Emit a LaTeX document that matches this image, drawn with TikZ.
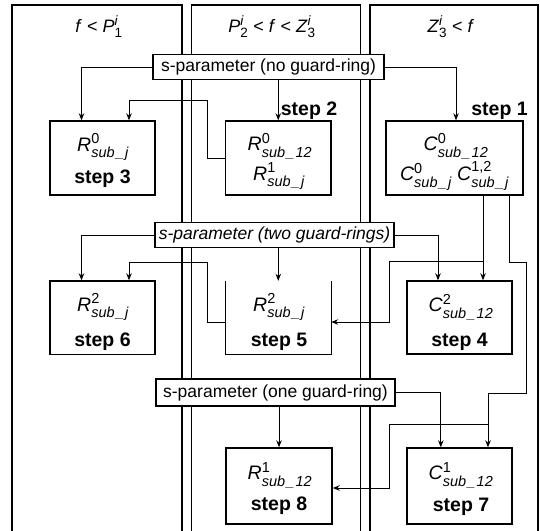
\documentclass[tikz,border=0pt]{standalone}
\usepackage{amsmath}
\usepackage{fontspec}
\setmainfont{Liberation Sans}
\usetikzlibrary{arrows.meta}
\DeclareMathSizes{19.5}{19.5}{14.5}{11}
\DeclareMathSizes{18}{18}{13.5}{10}
\newcommand{\vv}[3]{\textit{#1}\ensuremath{^{\textup{#2}}_{\textit{#3}}}}
\newcommand{\vt}[3]{\textit{#1}\ensuremath{^{\textit{#2}}_{\textup{#3}}}}
\newcommand{\us}{\kern1.2pt\_\kern1.2pt}
\begin{document}
\begin{tikzpicture}[x=1pt,y=-1pt,
  panel/.style={line width=1.3pt},
  box/.style={draw, line width=1.4pt, inner sep=0pt},
  sbox/.style={draw, fill=white, line width=1.1pt, inner sep=0pt, minimum height=25pt, font=\fontsize{17.5}{20}\selectfont},
  conn/.style={line width=1pt},
  arr/.style={conn, -{Stealth[length=7pt,width=5.5pt]}},
  steplbl/.style={font=\bfseries\fontsize{19.5}{22}\selectfont},
  big/.style={font=\fontsize{19.5}{22}\selectfont},
  ttl/.style={font=\fontsize{18}{20}\selectfont},
]
\useasboundingbox (0,0) rectangle (540,530);
% panels
\draw[panel] (12,531) -- (12,5) -- (182,5) -- (182,531);
\draw[panel] (191.5,531) -- (191.5,5) -- (360.5,5) -- (360.5,531);
\draw[panel] (370,531) -- (370,5) -- (538,5) -- (538,531);
% titles
\node[ttl] (t1) at (99,27) {\textit{f} < \vt{P}{i}{1}};
\node[ttl] (t2) at (272,27) {\vt{P}{i}{2} < \textit{f} < \vt{Z}{i}{3}};
\node[ttl] (t3) at (451,27) {\vt{Z}{i}{3} < \textit{f}};
% s-parameter boxes
\node[sbox, minimum width=231pt] (p1) at (268.5,67) {s-parameter (no guard-ring)};
\node[sbox, minimum width=239pt] (p2) at (274.5,235) {\itshape s-parameter (two guard-rings)};
\node[sbox, minimum width=239pt, minimum height=27pt] (p3) at (275.5,392.5) {s-parameter (one guard-ring)};
% row 1
\node[box, minimum width=105pt, minimum height=74pt] (s3) at (102.5,158) {};
\node[big] (s3r) at (103,147) {\vv{R}{0}{sub\us j}};
\node[steplbl] (s3s) at (102.5,179) {step 3};
\node[box, minimum width=105.5pt, minimum height=74pt] (s2) at (278.25,158) {};
\node[big] (s2r) at (280,146) {\vv{R}{0}{sub\us 12}};
\node[big] (s2q) at (279,176) {\vv{R}{1}{sub\us j}};
\node[steplbl] (s2s) at (309,111) {step 2};
\node[box, minimum width=137pt, minimum height=74pt] (s1) at (454.5,158) {};
\node[big] (s1r) at (456,146) {\vv{C}{0}{sub\us 12}};
\node[big] (s1q) at (454.5,176) {\vv{C}{0}{sub\us j} \vv{C}{1,2}{sub\us j}};
\node[steplbl] (s1s) at (499.5,111) {step 1};
% row 2
\node[box, minimum width=105pt, minimum height=73.5pt] (s6) at (102.5,317.75) {};
\node[big] (s6r) at (103,307) {\vv{R}{2}{sub\us j}};
\node[steplbl] (s6s) at (102.5,342) {step 6};
\node[minimum width=105.5pt, minimum height=73pt, inner sep=0pt] (s5) at (278.25,317.5) {};
\draw[line width=1.4pt] (s5.north west) -- (s5.south west) -- (s5.south east) -- (s5.north east);
\node[big] (s5r) at (279,307) {\vv{R}{2}{sub\us j}};
\node[steplbl] (s5s) at (279,342) {step 5};
\node[box, minimum width=105pt, minimum height=73pt] (s4) at (459.5,317.5) {};
\node[big] (s4r) at (461,307) {\vv{C}{2}{sub\us 12}};
\node[steplbl] (s4s) at (459.5,342) {step 4};
% row 3
\node[box, minimum width=106pt, minimum height=76pt] (s8) at (279,486) {};
\node[big] (s8r) at (280,475) {\vv{R}{1}{sub\us 12}};
\node[steplbl] (s8s) at (279,506) {step 8};
\node[box, minimum width=105pt, minimum height=76pt] (s7) at (459.5,486) {};
\node[big] (s7r) at (461,475) {\vv{C}{1}{sub\us 12}};
\node[steplbl] (s7s) at (461,507) {step 7};
% connectors from p1
\draw[arr] (p1.west) -| ([xshift=-21pt]s3.north);
\draw[arr] (p1.east) -| ([xshift=1.5pt]s1.north);
\draw[arr] (p1.south -| s2.north) -- (s2.north);
\coordinate (c1) at (207.6,100);
\draw[arr] (s2.west) -| (c1) -| ([xshift=26.5pt]s3.north);
% from s1 down
\draw[arr] ([xshift=28.5pt]s1.south) -- ([xshift=28.5pt]s1.south |- s4.north);
\coordinate (j1) at (483,261);
\coordinate (c2) at (389,322);
\draw[arr] (j1) -| (c2) -- (c2 -| s5.east);
% from p2
\draw[arr] (p2.west) -| ([xshift=-21pt]s6.north);
\draw[arr] (p2.east) -| ([xshift=-21.5pt]s4.north);
\draw[arr] (p2.south -| s5.north) -- (s5.north);
\coordinate (c3) at (207.6,262);
\draw[arr] (c2 -| s5.west) -| (c3) -| ([xshift=26.5pt]s6.north);
% right branch
\coordinate (c4) at (509.6,262);
\coordinate (c5) at (526,393);
\coordinate (j2) at (488,424);
\draw[arr] (s1.south -| c4) -- (c4) -| (c5) -| ([xshift=28.5pt]s7.north);
\coordinate (c6) at (389,488);
\draw[arr] (j2) -| (c6) -- (c6 -| s8.east);
% from p3
\draw[arr] (p3.east) -| ([xshift=-18.7pt]s7.north);
\draw[arr] (p3.south -| s8.north) -- (s8.north);
\end{tikzpicture}
\end{document}
